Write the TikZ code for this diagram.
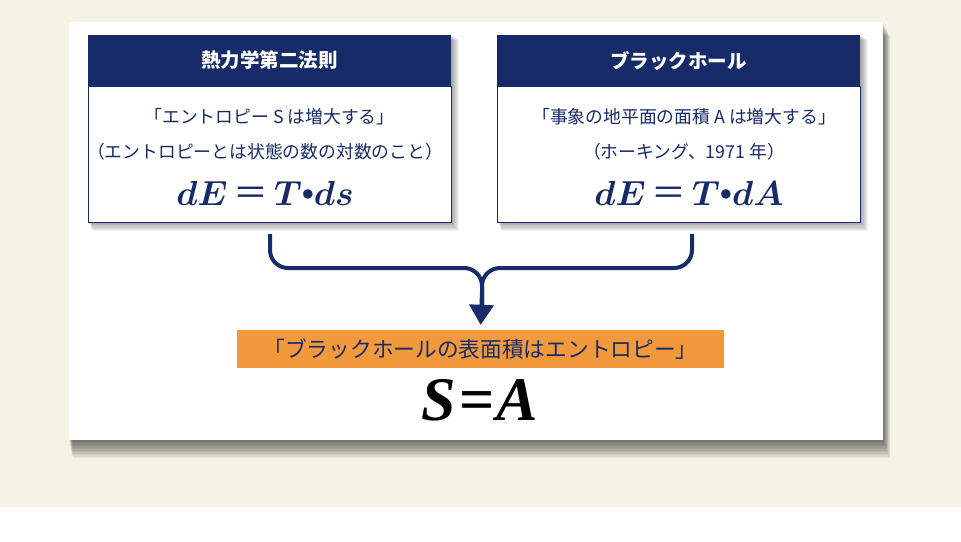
\documentclass[tikz,border=0pt]{standalone}
\usepackage{amsmath,bm}
\usepackage{fontspec}
\setmainfont{Liberation Serif}
\newfontfamily\jp{Noto Sans CJK JP}
\usetikzlibrary{arrows.meta}
\definecolor{navy}{HTML}{172B69}
\definecolor{orng}{HTML}{F29A3B}
\definecolor{beige}{HTML}{F5F3E5}
\tikzset{
  headbox/.style={fill=navy, text=white, minimum width=363pt, minimum height=52pt, inner sep=0pt, font=\jp\bfseries\fontsize{19.5}{22}\selectfont},
  bodybox/.style={fill=white, draw=navy, line width=1pt, minimum width=363pt, minimum height=136pt, inner sep=0pt},
  bodytext/.style={text=navy, inner sep=0pt, font=\jp\fontsize{17.8}{20}\selectfont},
  formula/.style={text=navy, inner sep=0pt, anchor=base, font=\fontsize{24.88}{28}\selectfont},
  resbox/.style={fill=orng, text=navy, minimum width=487pt, minimum height=38pt, inner sep=0pt, font=\jp\fontsize{21.7}{24}\selectfont},
  bracket/.style={draw=navy, line width=4pt, rounded corners=18pt},
}
\newcommand{\mydot}{\raisebox{0.3ex}{\scalebox{0.7}{$\bullet$}}}
\newcommand{\eqsign}{{\jp ＝}}
\newcommand{\formL}{\scalebox{1.4}{$\bm{dE}$\,\eqsign\,$\bm{T}$\mydot$\bm{ds}$}}
\newcommand{\formR}{\scalebox{1.4}{$\bm{dE}$\,\eqsign\,$\bm{T}$\mydot$\bm{dA}$}}
\begin{document}
\begin{tikzpicture}[x=1pt,y=-1pt]
\useasboundingbox (0,0) rectangle (961,541);
\fill[white] (0,0) rectangle (961,541);
\fill[beige] (0,0) rectangle (961,507);
% panel shadow
\foreach \i in {1,...,12} {
  \fill[black,opacity=0.055] (69+\i*0.3, 22+\i*1.2) rectangle (883+\i*0.6, 440+\i*1.5);
}
\node[fill=white, minimum width=814pt, minimum height=418pt, inner sep=0pt] (panel) at (476,231) {};
% box shadows
\foreach \i in {1,...,8} {
  \fill[black,opacity=0.05] (88+\i*0.5, 35+\i*0.6) rectangle (451+\i*1.0, 222+\i*1.1);
  \fill[black,opacity=0.05] (497+\i*0.5, 35+\i*0.6) rectangle (860+\i*1.0, 222+\i*1.1);
}
% left box
\node[bodybox] (lbody) at (269.5,154) {};
\node[headbox] (lhead) at (269.5,60.5) {熱力学第二法則};
\node[bodytext] (l1) at (269.5,117) {「エントロピー S は増大する」};
\node[bodytext] (l2) at (265,152) {（エントロピーとは状態の数の対数のこと）};
\node[formula] (lf) at (265,205) {\formL};
% right box
\node[bodybox] (rbody) at (678.5,154) {};
\node[headbox] (rhead) at (678.5,60.5) {ブラックホール};
\node[bodytext] (r1) at (684,117) {「事象の地平面の面積 A は増大する」};
\node[bodytext] (r2) at (684,152) {（ホーキング、1971 年）};
\node[formula] (rf) at (689,205) {\formR};
% result
\node[resbox] (res) at (480.5,349) {「ブラックホールの表面積はエントロピー」};
\node[anchor=base, inner sep=0pt, font=\fontsize{62}{66}\selectfont\bfseries\itshape] (eq) at (480,420) {S\kern3pt\textup{=}\kern2pt A};
% bracket
\coordinate (lstart) at (270,234);
\coordinate (rstart) at (692,234);
\coordinate (mid) at (482,268);
\coordinate (down) at (482,305);
\draw[bracket] (lstart) |- (mid) -- (down);
\draw[bracket] (rstart) |- (mid) -- (down);
\draw[draw=navy, line width=4pt, -{Triangle[width=24pt,length=20pt]}, shorten >=5pt] (482,292) -- (res.north);
\end{tikzpicture}
\end{document}
